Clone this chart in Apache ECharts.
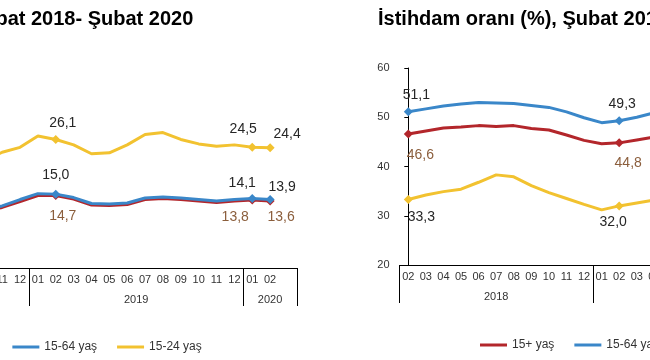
<!DOCTYPE html>
<html>
<head>
<meta charset="utf-8">
<script src="https://cdn.jsdelivr.net/npm/echarts@6/dist/echarts.min.js"></script>
<style>
html,body{margin:0;padding:0;background:#fff;}
#page{position:relative;width:650px;height:360px;overflow:hidden;background:#fff;}
#left{position:absolute;left:-300px;top:0;width:640px;height:360px;}
#right{position:absolute;left:330px;top:0;width:600px;height:360px;}
</style>
</head>
<body>
<div id="page"><div id="left"></div><div id="right"></div></div>
<script>
// ---- categories ----
const months = ['02','03','04','05','06','07','08','09','10','11','12','01','02','03','04','05','06','07','08','09','10','11','12','01','02',''];
const years = ['2018','2019','2020'];
const seriesNames = ['15+ yaş','15-64 yaş','15-24 yaş'];

// ---- left chart: İşsizlik oranı (%) ----
const unemp15 = [10.6,10.1,9.6,9.7,10.2,10.8,11.1,11.4,11.6,12.3,13.5,14.7,14.7,14.0,12.8,12.7,12.9,13.9,14.1,13.9,13.6,13.3,13.6,13.8,13.6];
const unemp1564 = [10.8,10.3,9.8,9.9,10.4,11.0,11.3,11.6,11.8,12.6,13.9,15.1,15.0,14.3,13.1,13.0,13.2,14.2,14.4,14.2,13.9,13.6,13.9,14.1,13.9];
const unemp1524 = [19.4,18.6,18.0,18.3,19.2,20.3,20.6,21.0,21.7,23.5,24.5,26.8,26.1,25.0,23.2,23.4,25.0,27.1,27.5,26.1,25.2,24.7,25.0,24.5,24.4];

// ---- right chart: İstihdam oranı (%) ----
const emp15 = [46.6,47.2,47.8,48.0,48.3,48.1,48.3,47.7,47.4,46.4,45.3,44.6,44.8,45.4,46.0,46.3,46.5,46.6,46.4,46.2,45.9,45.5,45.2,44.4,44.2];
const emp1564 = [51.1,51.7,52.3,52.7,53.0,52.9,52.8,52.4,52.0,51.1,49.9,48.9,49.3,50.0,50.9,51.2,51.4,51.5,51.2,51.0,50.7,50.2,49.8,49.0,48.8];
const emp1524 = [33.3,34.2,34.9,35.4,36.8,38.3,37.9,36.1,34.7,33.5,32.3,31.2,32.0,32.6,33.2,34.0,35.0,35.6,35.3,34.1,33.2,32.5,31.8,30.8,30.5];

const leftYTicks = [0, 40, 10];
const rightYTicks = [20, 60, 10];

// ---- styling ----
const colors = ['#B3262B', '#3A87C9', '#F2C230'];
const labelColors = ['#8B5E3C', '#262626', '#262626'];
const FONT = "'Liberation Sans', Arial, sans-serif";
const NARROW = "'Liberation Sans Narrow', 'Arial Narrow', 'Liberation Sans', sans-serif";

// label offsets (dx, dy) per series index -> data index
const leftLabels = [
  {0:[10,20], 12:[7,21], 23:[-17,17], 24:[11,16]},
  {0:[6,-17], 12:[0,-19], 23:[-10,-15], 24:[12,-12]},
  {0:[8,-16], 12:[7,-16], 23:[-9,-18], 24:[17,-14]}
];
const rightLabels = [
  {0:[12,21], 12:[9,20], 23:[-9,19], 24:[12,18]},
  {0:[8,-17], 12:[3,-17], 23:[-9,-17], 24:[12,-15]},
  {0:[13,18], 12:[-6,16], 23:[-9,17], 24:[12,16]}
];

function fmt(v){ return v.toFixed(1).replace('.', ','); }

function yearLayout(){
  const b = [-0.5];
  months.forEach((m,i)=>{ if(m==='01') b.push(i-0.5); });
  b.push(months.length-0.5);
  const centers = [];
  for(let k=0;k<b.length-1;k++) centers.push((b[k]+b[k+1])/2);
  return {bounds:b, centers:centers};
}

function buildSeries(arrs, labelCfg){
  return arrs.map((arr, si) => ({
    name: seriesNames[si],
    type: 'line',
    xAxisIndex: 0,
    yAxisIndex: 0,
    symbol: 'diamond',
    symbolSize: 9,
    showAllSymbol: true,
    lineStyle: {color: colors[si], width: 3},
    itemStyle: {color: colors[si]},
    emphasis: {disabled: true},
    label: {show: false},
    z: si === 1 ? 3 : 2,
    data: arr.map((v, i) => {
      const off = labelCfg[si][i];
      if (!off) return {value: v, symbol: 'none'};
      return {
        value: v,
        label: {
          show: true, position: 'inside', align: 'center', verticalAlign: 'middle',
          offset: off, formatter: fmt(v),
          fontSize: 14, fontFamily: FONT, color: labelColors[si]
        }
      };
    })
  }));
}

function buildOption(cfg){
  const yl = yearLayout();
  return {
    animation: false,
    title: Object.assign({
      text: cfg.title, padding: 0, top: 9,
      textStyle: {fontSize: 20, fontWeight: 'bold', fontFamily: FONT, color: '#000'}
    }, cfg.titlePos),
    legend: {
      data: seriesNames, left: cfg.legendLeft, top: cfg.legendTop, padding: 0,
      icon: 'rect', itemWidth: 27, itemHeight: 3, itemGap: 20,
      textStyle: {fontSize: 12, fontFamily: FONT, color: '#333'}
    },
    grid: cfg.grid,
    xAxis: [
      {
        type: 'category', data: months, position: 'bottom', boundaryGap: true,
        axisLine: {show: true, onZero: false, lineStyle: {color: '#000', width: 1}},
        axisTick: {show: false},
        axisLabel: {interval: 0, margin: 6, fontSize: 11, fontFamily: NARROW, color: '#333', hideOverlap: false},
        splitLine: {show: false}
      },
      {
        type: 'value', position: 'bottom', min: -0.5, max: months.length - 0.5,
        axisLine: {show: false},
        axisTick: {show: true, customValues: yl.bounds, length: 38, inside: false, lineStyle: {color: '#000', width: 1}},
        axisLabel: {show: true, customValues: yl.centers, margin: 26, fontSize: 11, fontFamily: FONT, color: '#333',
          formatter: function(v){ const k = yl.centers.indexOf(v); return k >= 0 ? years[k] : ''; }},
        splitLine: {show: false}
      }
    ],
    yAxis: {
      type: 'value', min: cfg.yTicks[0], max: cfg.yTicks[1], interval: cfg.yTicks[2],
      axisLine: {show: true, lineStyle: {color: '#000', width: 1}},
      axisTick: {show: true, length: 4, inside: false, lineStyle: {color: '#000'}},
      axisLabel: {margin: 10, fontSize: 11, fontFamily: FONT, color: '#333'},
      splitLine: {show: false}
    },
    series: buildSeries(cfg.arrs, cfg.labels)
  };
}

const leftChart = echarts.init(document.getElementById('left'), null, {renderer: 'canvas'});
leftChart.setOption(buildOption({
  title: 'İşsizlik oranı (%), Şubat 2018- Şubat 2020',
  titlePos: {right: 146.7},
  legendLeft: 218, legendTop: 341,
  grid: {left: 132.5, right: 43.1, top: 71, bottom: 92, containLabel: false},
  yTicks: leftYTicks,
  arrs: [unemp15, unemp1564, unemp1524],
  labels: leftLabels
}));

const rightChart = echarts.init(document.getElementById('right'), null, {renderer: 'canvas'});
rightChart.setOption(buildOption({
  title: 'İstihdam oranı (%), Şubat 2018- Şubat 2020',
  titlePos: {left: 48},
  legendLeft: 150, legendTop: 339,
  grid: {left: 69.5, right: 73.5, top: 68, bottom: 95, containLabel: false},
  yTicks: rightYTicks,
  arrs: [emp15, emp1564, emp1524],
  labels: rightLabels
}));
</script>
</body>
</html>
